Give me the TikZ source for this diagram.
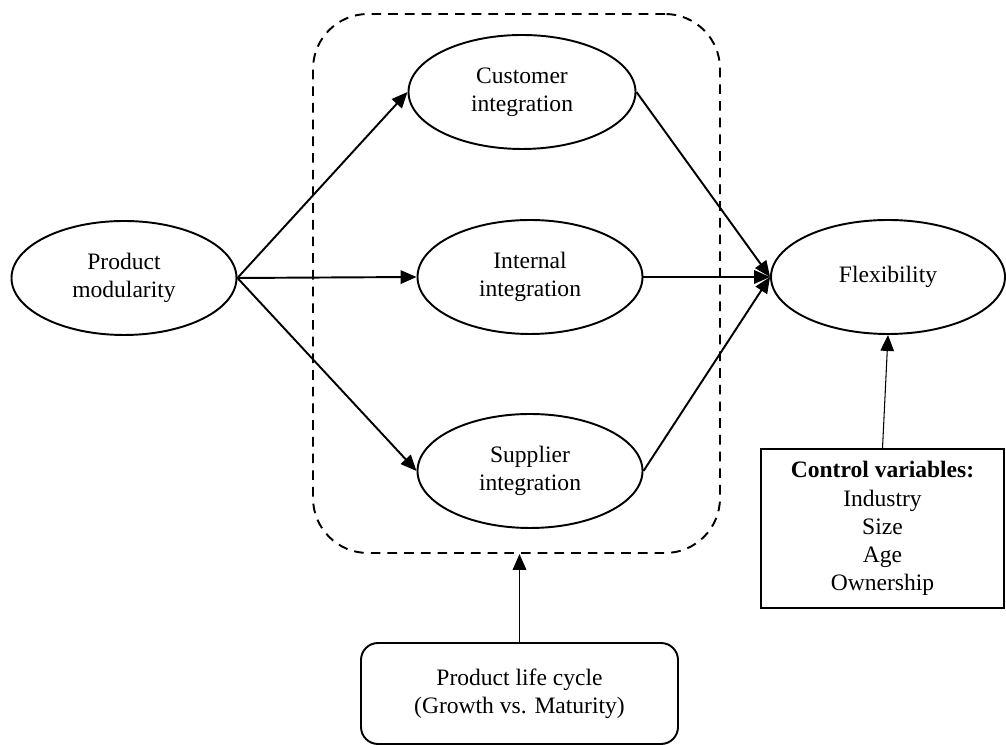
\documentclass[tikz,border=0pt]{standalone}
\usepackage{fontspec}
\setmainfont{Liberation Serif}
\usetikzlibrary{arrows.meta, shapes.geometric}

\begin{document}
\begin{tikzpicture}[
  >={Triangle[length = 3.2mm, width = 2.7mm]},
  every node/.style = {
    font = \fontsize{13.4}{16}\selectfont,
    align = center,
  },
  construct/.style = {
    shape = ellipse,
    draw = black,
    line width = 1.1pt,
    minimum width = 4.5cm,
    minimum height = 2.28cm,
    inner sep = 0pt,
  },
  group/.style = {
    shape = rectangle,
    draw = black,
    line width = 1.1pt,
    dash pattern = on 5.5pt off 4pt,
    rounded corners = 1.1cm,
    minimum width = 8.14cm,
    minimum height = 10.78cm,
  },
  moderator/.style = {
    shape = rectangle,
    draw = black,
    line width = 1.1pt,
    rounded corners = 0.34cm,
    minimum width = 6.34cm,
    minimum height = 2.02cm,
  },
  controlbox/.style = {
    shape = rectangle,
    draw = black,
    line width = 0.6pt,
    minimum width = 4.86cm,
    minimum height = 3.18cm,
    inner sep = 0pt,
  }
]
  \useasboundingbox (0, 0) rectangle (20.12, 14.9);

  \node[group] (mediators) at (10.33, 9.23) {};

  \node[construct] (modularity) at (2.48, 9.34) {Product\\modularity};
  \node[construct, minimum width = 4.54cm] (customer) at (10.44, 13.06) {Customer\\integration};
  \node[construct] (internal) at (10.6, 9.36) {Internal\\integration};
  \node[construct] (supplier) at (10.6, 5.48) {Supplier\\integration};
  \node[construct, minimum width = 4.68cm] (flexibility) at (17.76, 9.36) {Flexibility};

  \node[moderator] (lifecycle) at (10.39, 1.03) {Product life cycle\\(Growth vs. Maturity)};
  \node[controlbox] (controls) at (17.65, 4.33)
    {\textbf{Control variables:}\\Industry\\Size\\Age\\Ownership};

  \begin{scope}[every path/.style = { line width = 1.1pt }]
    \draw[->] (modularity.east) -- (customer.west);
    \draw[->] (modularity.east) -- (internal.west);
    \draw[->] (modularity.east) -- (supplier.west);
    \draw[->] (customer.east) -- (flexibility.west);
    \draw[->] (internal.east) -- (flexibility.west);
    \draw[->] (supplier.east) -- (flexibility.west);
    \draw[->] (lifecycle.north) -- (lifecycle.north |- mediators.south);
  \end{scope}

  \draw[->, line width = 0.6pt] (controls.north) -- (flexibility.south);
\end{tikzpicture}
\end{document}
